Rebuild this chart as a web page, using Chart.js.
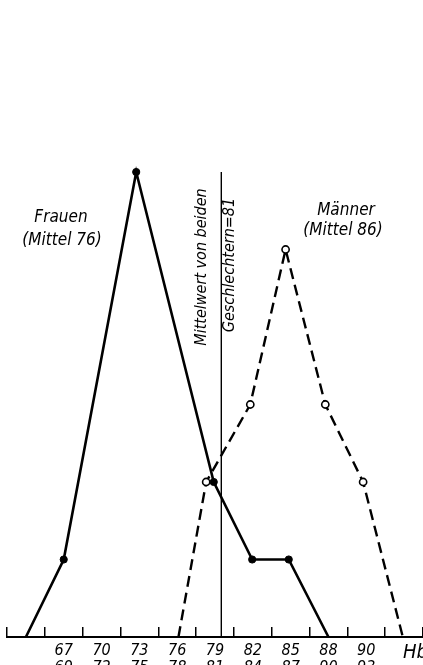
<!DOCTYPE html>
<html lang="de">
<head>
<meta charset="utf-8">
<title>Hämoglobin – Frauen und Männer</title>
<script src="https://cdn.jsdelivr.net/npm/chart.js@4.4.1/dist/chart.umd.min.js"></script>
<style>
  html, body { margin: 0; padding: 0; background: #fff; overflow: hidden; }
  canvas { display: block; }
</style>
</head>
<body>
<canvas id="hb" width="423" height="665"></canvas>
<script>
// Hb-Klassen: untere und obere Grenze jeder Klasse
const classLower = ['67', '70', '73', '76', '79', '82', '85', '88', '90'];
const classUpper = ['69', '72', '75', '78', '81', '84', '87', '90', '93'];
// Klassenmitten auf der Hb-Achse (erste ohne Beschriftung, letzte trägt "Hb")
const tickCenters = [65.5, 68.5, 71.5, 74.5, 77.5, 80.5, 83.5, 86.5, 89.5, 92.5, 95.5];
const axisUnit = 'Hb';

// Häufigkeiten (Anzahl Fälle) je Klasse
const frauenHb = [65.5, 68.5, 74.25, 80.4, 83.45, 86.35, 89.5];
const frauenN  = [0, 1, 6, 2, 1, 1, 0];
const maennerHb = [77.6, 79.8, 83.3, 86.1, 89.25, 92.25, 95.4];
const maennerN  = [0, 2, 3, 5, 3, 2, 0];

// Mittelwert beider Geschlechter
const meanHb = 81;
const meanLineTop = 6;

const FONT = "'DejaVu Sans Condensed', 'DejaVu Sans', sans-serif";

const tickLabels = tickCenters.map((c, i) => {
  if (i === 0) return '';
  if (i === tickCenters.length - 1) return '\u2007\u2007' + axisUnit;
  return [classLower[i - 1], classUpper[i - 1]];
});

const toPoints = (xs, ys) => xs.map((x, i) => ({ x, y: ys[i] }));
const dotRadius = ys => ys.map(v => (v === 0 ? 0 : 3.6));

// Beschriftungen im Diagramm
const notes = {
  id: 'notes',
  afterDatasetsDraw(chart) {
    const { ctx, scales: { x } } = chart;
    ctx.save();
    ctx.fillStyle = '#000';
    ctx.textAlign = 'center';
    ctx.textBaseline = 'middle';
    ctx.font = `italic 17px ${FONT}`;
    ctx.fillText('Frauen', 61, 218);
    ctx.fillText('(Mittel 76)', 62, 241);
    ctx.fillText('Männer', 346, 211);
    ctx.fillText('(Mittel 86)', 343, 231);

    const xm = x.getPixelForValue(meanHb);
    ctx.font = `italic 16px ${FONT}`;
    ctx.save();
    ctx.translate(xm - 19, 267);
    ctx.rotate(-Math.PI / 2);
    ctx.fillText('Mittelwert von beiden', 0, 0);
    ctx.restore();
    ctx.save();
    ctx.translate(xm + 9, 265);
    ctx.rotate(-Math.PI / 2);
    ctx.fillText('Geschlechtern=81', 0, 0);
    ctx.restore();
    ctx.restore();
  }
};

new Chart(document.getElementById('hb'), {
  type: 'line',
  data: {
    datasets: [
      {
        label: 'Frauen',
        data: toPoints(frauenHb, frauenN),
        borderColor: '#000',
        borderWidth: 2.6,
        pointRadius: dotRadius(frauenN),
        pointBackgroundColor: '#000',
        pointBorderColor: '#000',
        pointBorderWidth: 1,
        tension: 0,
        clip: false
      },
      {
        label: 'Männer',
        data: toPoints(maennerHb, maennerN),
        borderColor: '#000',
        borderWidth: 2.4,
        borderDash: [11, 6],
        pointRadius: dotRadius(maennerN),
        pointBackgroundColor: '#fff',
        pointBorderColor: '#000',
        pointBorderWidth: 1.6,
        tension: 0,
        clip: false
      },
      {
        label: 'Mittelwert',
        data: [{ x: meanHb, y: 0 }, { x: meanHb, y: meanLineTop }],
        borderColor: '#000',
        borderWidth: 1.4,
        pointRadius: 0,
        clip: false
      }
    ]
  },
  options: {
    responsive: false,
    animation: false,
    devicePixelRatio: 1,
    layout: { padding: { left: 7, right: 0, top: 17, bottom: 0 } },
    plugins: { legend: { display: false }, tooltip: { enabled: false } },
    scales: {
      x: {
        type: 'linear',
        min: 64,
        max: 97,
        afterBuildTicks: scale => {
          scale.ticks = tickCenters.map(v => ({ value: v }));
        },
        afterFit: scale => {
          scale.height = 28;
          scale.paddingLeft = 0;
          scale.paddingRight = 0;
        },
        border: { display: true, color: '#000', width: 2 },
        grid: {
          offset: true,
          drawOnChartArea: false,
          drawTicks: true,
          tickLength: -10,
          color: '#000',
          lineWidth: 1.5
        },
        ticks: {
          autoSkip: false,
          maxRotation: 0,
          minRotation: 0,
          padding: 15.6,
          color: '#000',
          font: ctx => (ctx.index === tickCenters.length - 1
            ? { family: FONT, size: 20, style: 'italic', lineHeight: 1.05 }
            : { family: FONT, size: 16, style: 'italic', lineHeight: 1.05 }),
          callback: (value, index) => tickLabels[index]
        }
      },
      y: {
        display: false,
        min: 0,
        max: 8
      }
    }
  },
  plugins: [notes]
});
</script>
</body>
</html>
